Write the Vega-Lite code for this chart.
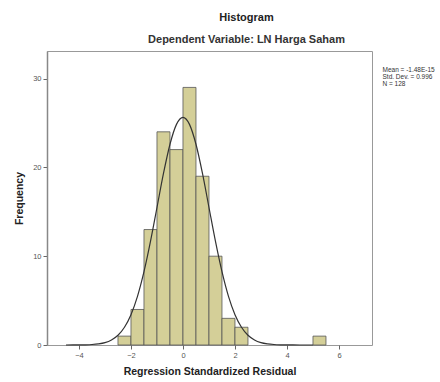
{
  "$schema": "https://vega.github.io/schema/vega-lite/v6.json",
  "width": 325,
  "height": 294,
  "autosize": {"type": "none"},
  "padding": {"left": 47, "top": 51, "right": 68, "bottom": 37},
  "background": "white",
  "config": {
    "font": "Liberation Sans",
    "view": {"fill": "#f0f0f0", "stroke": "#999999", "strokeWidth": 1}
  },
  "title": {
    "text": "Histogram",
    "subtitle": "Dependent Variable: LN Harga Saham",
    "anchor": "middle",
    "dx": 37,
    "fontSize": 11,
    "fontWeight": "bold",
    "color": "#222222",
    "subtitleFontSize": 11,
    "subtitleFontWeight": "bold",
    "subtitleColor": "#333333",
    "subtitlePadding": 11,
    "offset": 6
  },
  "datasets": {
    "bars": [
      {"bin_start": -2.5, "bin_end": -2.0, "count": 1},
      {"bin_start": -2.0, "bin_end": -1.5, "count": 4},
      {"bin_start": -1.5, "bin_end": -1.0, "count": 13},
      {"bin_start": -1.0, "bin_end": -0.5, "count": 24},
      {"bin_start": -0.5, "bin_end": 0.0, "count": 22},
      {"bin_start": 0.0, "bin_end": 0.5, "count": 29},
      {"bin_start": 0.5, "bin_end": 1.0, "count": 19},
      {"bin_start": 1.0, "bin_end": 1.5, "count": 10},
      {"bin_start": 1.5, "bin_end": 2.0, "count": 3},
      {"bin_start": 2.0, "bin_end": 2.5, "count": 2},
      {"bin_start": 5.0, "bin_end": 5.5, "count": 1}
    ],
    "curve": [
      {"x": -4.5, "y": 0.001},
      {"x": -4.0, "y": 0.008},
      {"x": -3.75, "y": 0.021},
      {"x": -3.5, "y": 0.054},
      {"x": -3.25, "y": 0.125},
      {"x": -3.0, "y": 0.27},
      {"x": -2.75, "y": 0.57},
      {"x": -2.5, "y": 1.10},
      {"x": -2.25, "y": 2.00},
      {"x": -2.0, "y": 3.41},
      {"x": -1.75, "y": 5.47},
      {"x": -1.5, "y": 8.25},
      {"x": -1.25, "y": 11.66},
      {"x": -1.0, "y": 15.48},
      {"x": -0.75, "y": 19.31},
      {"x": -0.5, "y": 22.60},
      {"x": -0.25, "y": 24.84},
      {"x": 0.0, "y": 25.63},
      {"x": 0.25, "y": 24.84},
      {"x": 0.5, "y": 22.60},
      {"x": 0.75, "y": 19.31},
      {"x": 1.0, "y": 15.48},
      {"x": 1.25, "y": 11.66},
      {"x": 1.5, "y": 8.25},
      {"x": 1.75, "y": 5.47},
      {"x": 2.0, "y": 3.41},
      {"x": 2.25, "y": 2.00},
      {"x": 2.5, "y": 1.10},
      {"x": 2.75, "y": 0.57},
      {"x": 3.0, "y": 0.27},
      {"x": 3.25, "y": 0.125},
      {"x": 3.5, "y": 0.054},
      {"x": 3.75, "y": 0.021},
      {"x": 4.0, "y": 0.008},
      {"x": 4.5, "y": 0.001},
      {"x": 5.0, "y": 0.0}
    ],
    "stats": [
      {"stat": "Mean = -1.48E-15"},
      {"stat": "Std. Dev. = 0.996"},
      {"stat": "N = 128"}
    ]
  },
  "layer": [
    {
      "data": {"name": "bars"},
      "mark": {"type": "bar", "fill": "#d4cf98", "stroke": "#555555", "strokeWidth": 0.8},
      "encoding": {
        "x": {
          "field": "bin_start",
          "type": "quantitative",
          "scale": {"domain": [-5.23, 7.27], "nice": false, "zero": false},
          "axis": {
            "values": [-4, -2, 0, 2, 4, 6],
            "title": "Regression Standardized Residual",
            "titleFontSize": 10.5,
            "titleFontWeight": "bold",
            "titleColor": "#222222",
            "titlePadding": 8,
            "labelFontSize": 7.5,
            "labelColor": "#555555",
            "tickColor": "#666666",
            "tickSize": 4,
            "domain": false,
            "grid": false
          }
        },
        "x2": {"field": "bin_end"},
        "y": {
          "field": "count",
          "type": "quantitative",
          "scale": {"domain": [0, 33.1], "nice": false},
          "axis": {
            "values": [0, 10, 20, 30],
            "title": "Frequency",
            "titleFontSize": 10.5,
            "titleFontWeight": "bold",
            "titleColor": "#222222",
            "titlePadding": 8,
            "labelFontSize": 7.5,
            "labelColor": "#555555",
            "tickColor": "#666666",
            "tickSize": 4,
            "domain": true,
            "domainColor": "#888888",
            "domainWidth": 1.5,
            "grid": false
          }
        },
        "y2": {"datum": 0}
      }
    },
    {
      "data": {"name": "curve"},
      "mark": {"type": "line", "color": "#333333", "strokeWidth": 1.2, "interpolate": "monotone"},
      "encoding": {
        "x": {"field": "x", "type": "quantitative"},
        "y": {"field": "y", "type": "quantitative"}
      }
    },
    {
      "data": {"name": "stats"},
      "mark": {"type": "point", "opacity": 0},
      "encoding": {
        "color": {
          "field": "stat",
          "type": "nominal",
          "scale": {
            "domain": ["Mean = -1.48E-15", "Std. Dev. = 0.996", "N = 128"],
            "range": ["#333333", "#333333", "#333333"]
          },
          "legend": {
            "title": null,
            "orient": "none",
            "legendX": 329,
            "legendY": 16,
            "symbolSize": 0,
            "symbolOpacity": 0,
            "symbolStrokeWidth": 0,
            "labelOffset": 0,
            "labelFontSize": 6.5,
            "labelColor": "#333333",
            "labelLimit": 200,
            "rowPadding": -1
          }
        }
      }
    }
  ]
}
